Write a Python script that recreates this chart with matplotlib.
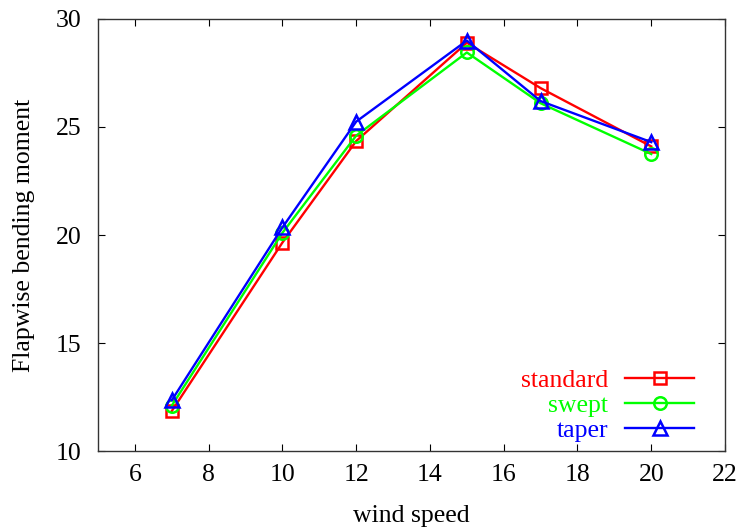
import matplotlib.pyplot as plt

plt.rcParams['font.family'] = ['Liberation Serif', 'DejaVu Serif']
plt.rcParams['font.size'] = 18.5

wind_speed = [7, 10, 12, 15, 17, 20]
standard = [11.85, 19.65, 24.35, 28.9, 26.8, 24.1]
swept = [12.1, 20.1, 24.6, 28.45, 26.1, 23.75]
taper = [12.35, 20.35, 25.25, 29.0, 26.2, 24.3]

fig = plt.figure(figsize=(7.39, 5.29), dpi=100)
ax = fig.add_axes([0.1326, 0.1474, 0.8485, 0.8167])

ax.plot(wind_speed, standard, color='#ff0000', lw=1.7, marker='s', ms=9,
        mfc='none', mew=1.8, label='standard')
ax.plot(wind_speed, swept, color='#00ff00', lw=1.7, marker='o', ms=9,
        mfc='none', mew=1.8, label='swept')
ax.plot(wind_speed, taper, color='#0000ff', lw=1.7, marker='^', ms=10,
        mfc='none', mew=1.8, label='taper')

ax.set_xlim(5, 22)
ax.set_ylim(10, 30)
ax.set_xticks(range(6, 23, 2))
ax.set_yticks(range(10, 31, 5))
ax.tick_params(direction='in', length=5, width=0.8, top=True, right=True)
ax.tick_params(axis='x', pad=9)
ax.tick_params(axis='y', pad=12)
for s in ax.spines.values():
    s.set_linewidth(1.0)
    s.set_color('#333333')

ax.set_xlabel('wind speed', labelpad=14)
ax.set_ylabel('Flapwise bending moment', labelpad=15)

leg = ax.legend(loc='lower right', bbox_to_anchor=(0.951, 0.02), frameon=False,
                markerfirst=False, handlelength=2.7, labelspacing=0.08,
                handletextpad=0.65, borderpad=0, borderaxespad=0,
                labelcolor='linecolor')

fig.savefig('out.png', dpi=100)
